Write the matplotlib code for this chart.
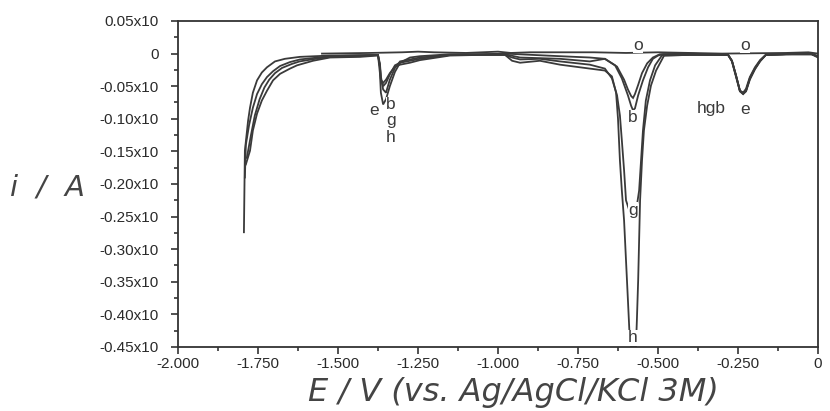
import matplotlib
matplotlib.use("Agg")
import matplotlib.pyplot as plt
from matplotlib.ticker import MultipleLocator, FixedLocator, FuncFormatter

plt.rcParams['font.family'] = 'Liberation Sans'

# --- data (E in V, i in the plot's units) ---
E_h = [-1.794, -1.791, -1.781, -1.775, -1.766, -1.753, -1.738, -1.722, -1.697, -1.666,
       -1.619, -1.525, -1.375, -1.369, -1.366, -1.359, -1.350, -1.338, -1.322, -1.306,
       -1.275, -1.244, -1.150, -1.056, -0.978, -0.956, -0.931, -0.869, -0.806, -0.713,
       -0.666, -0.644, -0.631, -0.625, -0.619, -0.613, -0.606, -0.600, -0.594, -0.588,
       -0.584, -0.569, -0.566, -0.562, -0.559, -0.556, -0.550, -0.544, -0.534, -0.522,
       -0.506, -0.481, -0.400, -0.281, -0.269, -0.256, -0.244, -0.234, -0.225, -0.213,
       -0.197, -0.181, -0.163, -0.100, -0.020, 0.0]
i_h = [-0.274, -0.149, -0.103, -0.083, -0.060, -0.041, -0.029, -0.021, -0.012, -0.008,
       -0.005, -0.003, -0.002, -0.020, -0.040, -0.045, -0.040, -0.030, -0.020, -0.017,
       -0.014, -0.010, -0.003, -0.002, -0.002, -0.011, -0.014, -0.011, -0.017, -0.023,
       -0.026, -0.035, -0.060, -0.100, -0.164, -0.210, -0.256, -0.317, -0.378, -0.440,
       -0.450, -0.450, -0.409, -0.348, -0.286, -0.225, -0.164, -0.118, -0.080, -0.049,
       -0.026, -0.003, -0.002, -0.002, -0.011, -0.034, -0.057, -0.062, -0.057, -0.038,
       -0.023, -0.011, -0.002, -0.001, -0.001, -0.006]

E_g = [-1.791, -1.788, -1.778, -1.766, -1.753, -1.738, -1.722, -1.703, -1.681, -1.650,
       -1.619, -1.525, -1.375, -1.369, -1.366, -1.359, -1.350, -1.338, -1.322, -1.306,
       -1.275, -1.244, -1.150, -1.056, -0.978, -0.956, -0.931, -0.869, -0.806, -0.713,
       -0.666, -0.644, -0.628, -0.619, -0.613, -0.606, -0.600, -0.588, -0.569, -0.559,
       -0.553, -0.547, -0.538, -0.525, -0.509, -0.488, -0.400, -0.281, -0.269, -0.256,
       -0.244, -0.234, -0.225, -0.213, -0.197, -0.181, -0.163, -0.100, -0.020, 0.0]
i_g = [-0.190, -0.140, -0.110, -0.083, -0.062, -0.047, -0.036, -0.027, -0.019, -0.013,
       -0.009, -0.004, -0.002, -0.020, -0.040, -0.050, -0.045, -0.032, -0.018, -0.014,
       -0.011, -0.008, -0.002, -0.002, -0.002, -0.006, -0.009, -0.008, -0.012, -0.017,
       -0.023, -0.038, -0.064, -0.095, -0.133, -0.179, -0.225, -0.243, -0.243, -0.210,
       -0.164, -0.118, -0.072, -0.041, -0.018, -0.003, -0.002, -0.002, -0.011, -0.034,
       -0.057, -0.060, -0.054, -0.036, -0.021, -0.010, -0.002, -0.001, -0.001, -0.005]

E_b = [-1.788, -1.775, -1.766, -1.753, -1.738, -1.722, -1.703, -1.681, -1.650, -1.628,
       -1.578, -1.525, -1.431, -1.375, -1.369, -1.366, -1.359, -1.350, -1.338, -1.322,
       -1.306, -1.275, -1.244, -1.150, -1.056, -0.978, -0.931, -0.806, -0.713, -0.666,
       -0.634, -0.613, -0.594, -0.584, -0.578, -0.572, -0.562, -0.547, -0.531, -0.516,
       -0.500, -0.484, -0.400, -0.281, -0.269, -0.256, -0.244, -0.234, -0.225, -0.213,
       -0.197, -0.181, -0.163, -0.100, -0.020, 0.0]
i_b = [-0.170, -0.149, -0.118, -0.092, -0.072, -0.057, -0.041, -0.031, -0.023, -0.018,
       -0.011, -0.006, -0.005, -0.003, -0.015, -0.035, -0.055, -0.060, -0.040, -0.022,
       -0.012, -0.009, -0.006, -0.002, -0.001, -0.001, -0.006, -0.008, -0.012, -0.008,
       -0.018, -0.038, -0.064, -0.080, -0.087, -0.084, -0.064, -0.041, -0.021, -0.008,
       -0.003, -0.001, -0.001, -0.002, -0.011, -0.034, -0.057, -0.060, -0.057, -0.038,
       -0.023, -0.011, -0.002, -0.001, -0.001, -0.004]

E_e = [-1.785, -1.772, -1.760, -1.745, -1.730, -1.715, -1.697, -1.675, -1.645, -1.620,
       -1.570, -1.525, -1.431, -1.375, -1.369, -1.366, -1.359, -1.350, -1.338, -1.322,
       -1.306, -1.275, -1.244, -1.150, -1.056, -0.978, -0.806, -0.713, -0.666, -0.628,
       -0.606, -0.594, -0.584, -0.578, -0.572, -0.562, -0.550, -0.534, -0.516, -0.494,
       -0.400, -0.281, -0.269, -0.256, -0.244, -0.234, -0.225, -0.213, -0.197, -0.181,
       -0.163, -0.100, -0.020, 0.0]
i_e = [-0.160, -0.125, -0.095, -0.070, -0.052, -0.040, -0.030, -0.022, -0.016, -0.012,
       -0.008, -0.005, -0.004, -0.002, -0.030, -0.060, -0.078, -0.070, -0.050, -0.028,
       -0.014, -0.006, -0.004, -0.001, -0.001, 0.000, -0.004, -0.006, -0.008, -0.020,
       -0.040, -0.055, -0.065, -0.068, -0.062, -0.048, -0.030, -0.015, -0.006, -0.001,
       0.000, -0.002, -0.012, -0.036, -0.058, -0.062, -0.058, -0.040, -0.024, -0.012,
       -0.002, -0.001, 0.000, -0.004]

E_o = [-1.550, -1.400, -1.300, -1.250, -1.200, -1.100, -1.000, -0.960, -0.900, -0.700,
       -0.600, -0.500, -0.300, -0.100, -0.030, 0.0]
i_o = [0.000, 0.001, 0.002, 0.003, 0.002, 0.001, 0.003, 0.001, 0.002, 0.002,
       0.001, 0.002, 0.000, 0.001, 0.002, 0.000]

curves = [(E_h, i_h), (E_g, i_g), (E_b, i_b), (E_e, i_e), (E_o, i_o)]

# curve labels printed on the plot: (text, E, i)
labels = [("o", -0.562, 0.013), ("o", -0.228, 0.013),
          ("b", -0.578, -0.098), ("g", -0.578, -0.240), ("h", -0.578, -0.436),
          ("e", -1.388, -0.088), ("b", -1.334, -0.078), ("g", -1.334, -0.103),
          ("h", -1.334, -0.129), ("hgb", -0.334, -0.084), ("e", -0.228, -0.086)]

y_major = [-0.45, -0.40, -0.35, -0.30, -0.25, -0.20, -0.15, -0.10, -0.05, 0.0, 0.05]
x_major = [-2.0, -1.75, -1.5, -1.25, -1.0, -0.75, -0.5, -0.25, 0.0]
x_ticklabels = ["-2.000", "-1.750", "-1.500", "-1.250", "-1.000", "-0.750", "-0.500", "-0.250", "0"]

fig = plt.figure(figsize=(8.3, 4.11), dpi=100)
ax = fig.add_axes([178 / 830, 1 - 347 / 411, 640 / 830, 326 / 411])

for E, i in curves:
    ax.plot(E, i, color='#3a3a3a', linewidth=1.3, solid_joinstyle='miter')

for txt, x, y in labels:
    ax.text(x, y, txt, ha='center', va='center', fontsize=12.5, color='#3a3a3a',
            bbox=dict(facecolor='white', edgecolor='none', pad=0.3), zorder=4)

ax.set_xlim(-2.0, 0.0)
ax.set_ylim(-0.45, 0.05)

ax.xaxis.set_major_locator(FixedLocator(x_major))
ax.xaxis.set_minor_locator(MultipleLocator(0.125))
ax.set_xticklabels(x_ticklabels)
ax.yaxis.set_major_locator(FixedLocator(y_major))
ax.yaxis.set_minor_locator(MultipleLocator(0.025))
ax.yaxis.set_major_formatter(FuncFormatter(lambda v, p: "0" if abs(v) < 1e-9 else f"{v:.2f}x10"))

ax.tick_params(which='both', direction='out', color='#333333', width=1.2)
ax.tick_params(which='major', length=5, labelsize=11, labelcolor='#2a2a2a')
ax.tick_params(which='minor', length=3)
ax.tick_params(axis='y', pad=9)
ax.tick_params(axis='x', pad=2)
for s in ax.spines.values():
    s.set_color('#333333')
    s.set_linewidth(1.3)

fig.text(0.057, 1 - 187 / 411, "i  /  A", fontsize=21, style='italic', color='#444444',
         family='DejaVu Sans', ha='center', va='center')
fig.text(0.619, 1 - 392 / 411, "E / V (vs. Ag/AgCl/KCl 3M)", fontsize=23, style='italic',
         color='#444444', family='DejaVu Sans', ha='center', va='center')

fig.savefig("out.png", dpi=100)
